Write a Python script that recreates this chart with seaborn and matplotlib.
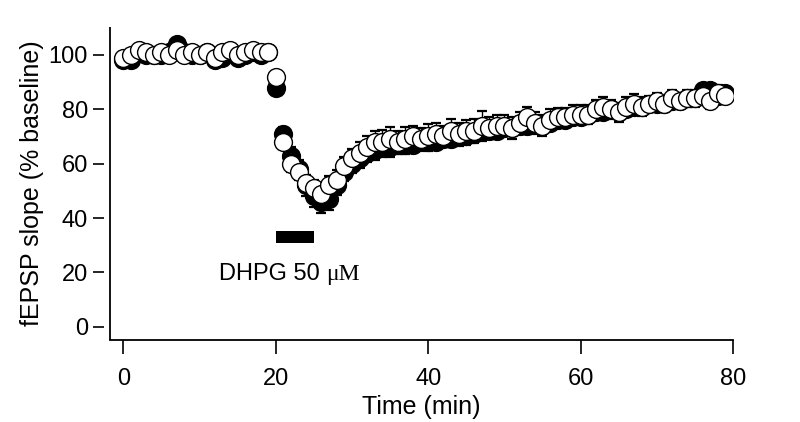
import numpy as np
import pandas as pd
import matplotlib
matplotlib.use("Agg")
import matplotlib.pyplot as plt
import seaborn as sns

# ---------------- data ----------------
time_min = list(range(80))

dhpg_filled = [98, 98, 101, 100, 100, 100, 101, 104, 101, 100,
               100, 101, 98, 99, 101, 99, 100, 101, 100, 101,
               88, 71, 63, 58, 52, 48, 46, 47, 52, 57,
               60, 62, 64, 65, 66, 66, 67, 67, 67, 68,
               68, 68, 69, 69, 70, 70, 71, 72, 72, 72,
               73, 73, 74, 74, 75, 74, 75, 76, 76, 77,
               77, 78, 79, 79, 80, 79, 80, 81, 81, 82,
               82, 82, 83, 83, 84, 84, 87, 87, 85, 86]
sem_filled = [1.0, 1.2, 1.0, 1.1, 1.0, 1.2, 1.0, 1.3, 1.0, 1.1,
              1.0, 1.2, 1.0, 1.1, 1.0, 1.2, 1.0, 1.1, 1.0, 1.0,
              2.0, 2.5, 3.0, 3.5, 4.0, 4.0, 4.0, 4.0, 3.5, 3.5,
              3.5, 3.5, 3.5, 3.5, 3.5, 3.5, 3.5, 3.5, 3.0, 3.0,
              3.5, 3.0, 3.0, 3.0, 3.5, 3.0, 3.0, 3.0, 3.0, 3.0,
              3.0, 3.0, 3.0, 3.0, 2.5, 3.0, 2.5, 2.5, 2.5, 2.5,
              2.5, 2.5, 2.5, 2.5, 2.5, 2.5, 2.5, 2.5, 2.5, 2.5,
              2.5, 2.5, 2.5, 2.5, 2.5, 2.0, 2.0, 2.0, 2.0, 2.0]

dhpg_open = [99, 100, 102, 101, 100, 101, 100, 102, 100, 101,
             100, 101, 99, 101, 102, 100, 101, 102, 101, 101,
             92, 68, 60, 57, 53, 51, 49, 52, 54, 59,
             62, 64, 66, 68, 68, 69, 68, 69, 70, 69,
             70, 71, 70, 72, 71, 72, 72, 74, 73, 74,
             74, 73, 75, 77, 75, 74, 76, 77, 77, 78,
             78, 78, 80, 81, 80, 79, 81, 82, 81, 82,
             83, 82, 84, 83, 84, 84, 85, 83, 86, 85]
sem_open = [1.0, 1.0, 1.0, 1.0, 1.0, 1.0, 1.0, 1.0, 1.0, 1.0,
            1.0, 1.0, 1.0, 1.0, 1.0, 1.0, 1.0, 1.0, 1.0, 1.0,
            2.0, 2.5, 3.0, 3.0, 3.0, 3.0, 3.0, 3.5, 3.5, 3.5,
            3.5, 4.0, 4.0, 4.0, 4.5, 4.5, 4.0, 4.5, 4.0, 4.0,
            4.5, 4.0, 4.0, 4.5, 4.0, 4.0, 4.5, 5.5, 4.0, 4.0,
            4.0, 4.0, 4.0, 4.0, 4.0, 4.0, 4.0, 3.5, 3.5, 3.5,
            3.5, 3.5, 3.5, 3.5, 3.5, 3.5, 3.5, 3.5, 3.5, 3.0,
            3.0, 3.0, 3.0, 3.0, 3.0, 3.0, 3.0, 3.0, 3.0, 3.0]

x_ticks = [0, 20, 40, 60, 80]
y_ticks = [0, 20, 40, 60, 80, 100]
drug_start, drug_end = 20, 25
drug_label = "DHPG 50 "
drug_unit = "\u03bcM"

# ---------------- plot ----------------
sns.set_theme(style="white")
plt.rcParams["font.family"] = ["Liberation Sans", "DejaVu Sans"]
plt.rcParams["text.color"] = "black"
plt.rcParams["axes.labelcolor"] = "black"
plt.rcParams["xtick.color"] = "black"
plt.rcParams["ytick.color"] = "black"
plt.rcParams["xtick.labelcolor"] = "black"
plt.rcParams["ytick.labelcolor"] = "black"

fig = plt.figure(figsize=(8, 4.22), dpi=100)
ax = fig.add_axes([110 / 800, 1 - 340 / 422, (733 - 110) / 800, (340 - 27) / 422])

df_f = pd.DataFrame({"t": time_min, "v": dhpg_filled, "e": sem_filled})
df_o = pd.DataFrame({"t": time_min, "v": dhpg_open, "e": sem_open})

ebkw = dict(fmt="none", ecolor="black", elinewidth=1.0, capsize=3.6, capthick=1.6)
ax.errorbar(df_f["t"], df_f["v"], yerr=df_f["e"], zorder=2, **ebkw)
sns.scatterplot(data=df_f, x="t", y="v", ax=ax, s=165, color="black",
                edgecolor="black", linewidth=1.0, zorder=3, legend=False)
ax.errorbar(df_o["t"], df_o["v"], yerr=df_o["e"], zorder=4, **ebkw)
sns.scatterplot(data=df_o, x="t", y="v", ax=ax, s=165, color="white",
                edgecolor="black", linewidth=1.0, zorder=5, legend=False)

# drug application bar
ax.fill_between([drug_start, drug_end], 30.8, 35.2, color="black", linewidth=0, zorder=6)
ax.text(26.6, 17.2, drug_label, ha="right", va="baseline", fontsize=17,
        color="black", family=["Liberation Sans", "DejaVu Sans"])
ax.text(26.6, 17.2, drug_unit, ha="left", va="baseline", fontsize=17,
        color="black", family=["Liberation Serif", "DejaVu Serif"])

ax.set_xlim(-1.75, 80)
ax.set_ylim(-4.9, 110.3)
ax.set_xticks(x_ticks)
ax.set_yticks(y_ticks)
ax.set_xticklabels([str(v) for v in x_ticks])
ax.set_yticklabels([str(v) for v in y_ticks])

for s in ["top", "right"]:
    ax.spines[s].set_visible(False)
ax.spines["bottom"].set_linewidth(1.3)
ax.spines["bottom"].set_color("black")
# left axis ticks offset from the axis line
ax.spines["left"].set_position(("outward", 4))
ax.spines["left"].set_visible(False)
ax.plot([0, 0], [0, 1], transform=ax.transAxes, color="black", lw=1.3,
        clip_on=False, zorder=10, solid_capstyle="butt")

ax.tick_params(axis="y", direction="out", length=8, width=1.2, color="black",
               labelsize=17, pad=4, left=True, labelcolor="black")
ax.tick_params(axis="x", direction="out", length=10, width=1.2, color="black",
               labelsize=17, pad=10, bottom=True, labelcolor="black")

ax.set_xlabel("Time (min)", fontsize=18, labelpad=4, color="black")
ax.set_ylabel("fEPSP slope (% baseline)", fontsize=18, labelpad=3, color="black")
ax.grid(False)
ax.set_facecolor("white")
fig.patch.set_facecolor("white")

fig.savefig("out.png", dpi=100)
